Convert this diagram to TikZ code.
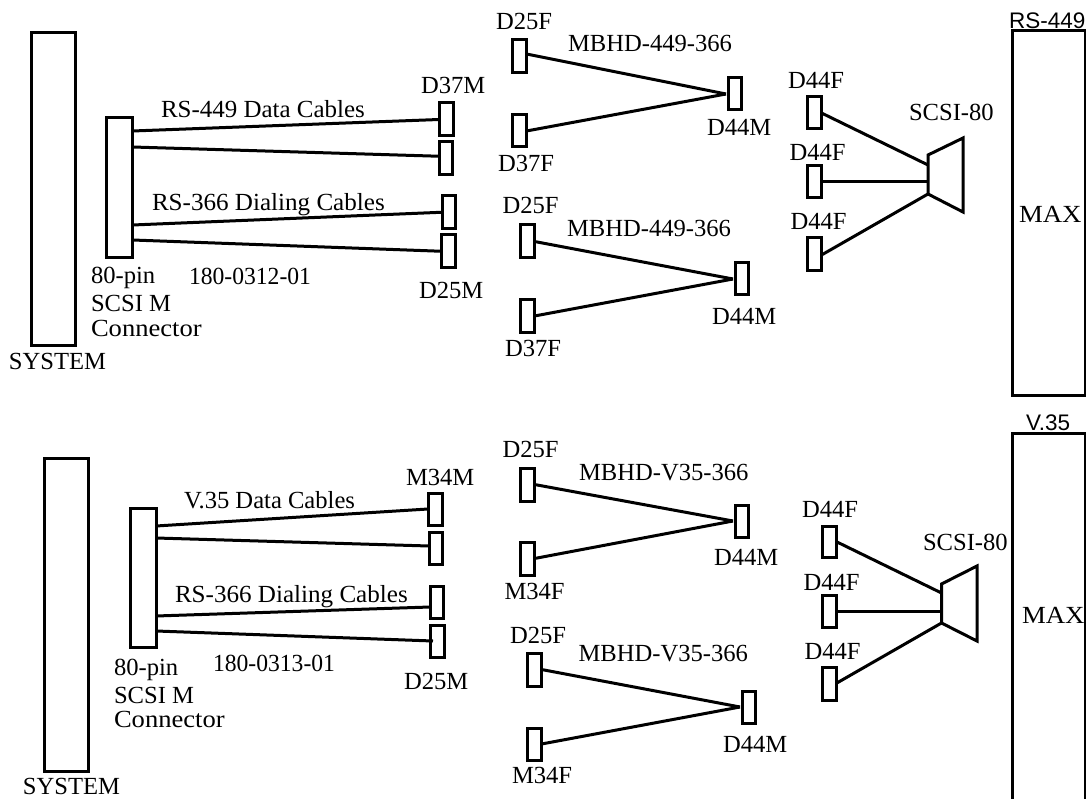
\documentclass[tikz,border=0pt]{standalone}
\usepackage{fontspec}
\setmainfont{Liberation Serif}
\newfontfamily\sansf{Liberation Sans}
\tikzset{
  every picture/.style={x=1pt,y=-1pt},
  conn/.style={draw=black,line width=3pt,inner sep=0pt,outer sep=0pt,fill=none,rectangle},
  cable/.style={draw=black,line width=3pt},
  lbl/.style={anchor=base west,inner sep=0pt,outer sep=0pt,text=black,font=\fontsize{24.6}{28}\selectfont},
  sanslbl/.style={lbl,font=\sansf\fontsize{22.5}{26}\selectfont},
}
\newcommand{\bx}[5]{%
  \pgfmathsetmacro{\bxw}{#4-#2-2}\pgfmathsetmacro{\bxh}{#5-#3-2}%
  \pgfmathsetmacro{\bxcx}{(#2+#4)/2}\pgfmathsetmacro{\bxcy}{(#3+#5)/2}%
  \node[conn,minimum width=\bxw pt,minimum height=\bxh pt] (#1) at (\bxcx,\bxcy) {};}
\newcommand{\lb}[4]{\node[lbl] (#1) at (#2,#3) {#4};}
\begin{document}
\begin{tikzpicture}
\clip (0,0) rectangle (1086,799);
% ---- upper half: boxes
\bx{sysA}{30}{31.5}{76}{346.5}
\bx{scsiA}{105.5}{116.5}{133.5}{258.5}
\bx{a1}{438}{102}{454.5}{137}
\bx{a2}{438}{141}{453.5}{175.5}
\bx{a3}{441}{195}{456.5}{229.5}
\bx{a4}{440}{234}{456.5}{268.5}
\bx{b1}{511.5}{39}{527.5}{74}
\bx{b2}{511.5}{114}{527.5}{148}
\bx{b3}{727}{77}{742.5}{111}
\bx{c1}{519.5}{224}{535.5}{259}
\bx{c2}{519.5}{299}{535.5}{333}
\bx{c3}{734}{262}{749.5}{296}
\bx{d1}{806.5}{96}{822.5}{130}
\bx{d2}{806.5}{165}{822.5}{199}
\bx{d3}{806.5}{237}{822.5}{272}
\bx{maxA}{1011}{29.5}{1086.5}{396.5}
% trapezoid A
\coordinate (tA1) at (928,155);
\coordinate (tA2) at (963,138);
\coordinate (tA3) at (963,212);
\coordinate (tA4) at (928,194);
\coordinate (tAa) at (928,165);
\coordinate (tAb) at (928,182);
\draw[cable,line join=miter] (tA1) -- (tA2) -- (tA3) -- (tA4) -- cycle;
% cables
\draw[cable] ([yshift=56.5pt]scsiA.east) -- (a1.west);
\draw[cable] ([yshift=40.5pt]scsiA.east) -- ([yshift=2pt]a2.west);
\draw[cable] ([yshift=-37.5pt]scsiA.east) -- (a3.west);
\draw[cable] ([yshift=-52.5pt]scsiA.east) -- (a4.west);
\draw[cable] (b1.east) ++(0,-2.5) -- ([xshift=-2pt]b3.west);
\draw[cable] (b2.east) -- ([xshift=-2pt]b3.west);
\draw[cable] (c1.east) -- ([xshift=-2pt]c3.west);
\draw[cable] (c2.east) -- ([xshift=-2pt]c3.west);
\draw[cable] (d1.east) -- (tAa);
\draw[cable] (d2.east) -- (tAb);
\draw[cable] ([yshift=-.5pt]d3.east) -- (tA4);
% labels
\lb{l1}{9}{369}{SYSTEM}
\lb{l2}{91}{284}{80-pin}
\lb{l3}{91}{312}{SCSI M}
\lb{l4}{91}{336}{\scalebox{1.08}[1]{Connector}}
\lb{l5}{189}{285}{\scalebox{.96}[1]{180-0312-01}}
\lb{l6}{161}{117.5}{\scalebox{1.015}[1]{RS-449 Data Cables}}
\lb{l7}{152}{211}{\scalebox{1.02}[1]{RS-366 Dialing Cables}}
\lb{l8}{421}{94}{D37M}
\lb{l9}{419}{299}{D25M}
\lb{l10}{496}{30}{D25F}
\lb{l11}{568}{52}{MBHD-449-366}
\lb{l12}{498}{172}{D37F}
\lb{l13}{707}{136}{D44M}
\lb{l14}{502.5}{214}{D25F}
\lb{l15}{567}{237}{MBHD-449-366}
\lb{l16}{505}{356}{D37F}
\lb{l17}{712}{324}{D44M}
\lb{l18}{788}{89}{D44F}
\lb{l19}{789.5}{161}{D44F}
\lb{l20}{790.5}{230}{D44F}
\lb{l21}{909}{121}{SCSI-80}
\lb{l22}{1019}{223}{\scalebox{1.09}[1]{MAX}}
\node[sanslbl] (l23) at (1009,28.5) {RS-449};
% ---- lower half: boxes
\bx{sysB}{43}{457.5}{89}{772.5}
\bx{scsiB}{129}{507.5}{157}{648.5}
\bx{e1}{427}{492}{443.5}{526}
\bx{e2}{428}{531}{443.5}{565}
\bx{e3}{429}{585}{444.5}{619}
\bx{e4}{429}{624}{445.5}{658}
\bx{f1}{519.5}{467}{535.5}{502}
\bx{f2}{519.5}{541}{535.5}{576}
\bx{f3}{734}{504}{749.5}{538}
\bx{g1}{526.5}{652}{542.5}{687}
\bx{g2}{526.5}{727}{542.5}{761}
\bx{g3}{741}{690}{756.5}{724}
\bx{h1}{821}{525}{837}{558}
\bx{h2}{821}{594}{837}{628}
\bx{h3}{821}{666}{837}{701}
\bx{maxB}{1011}{432.5}{1086.5}{830}
% trapezoid B
\coordinate (tB1) at (941.5,584);
\coordinate (tB2) at (977,566);
\coordinate (tB3) at (977,641);
\coordinate (tB4) at (941.5,623);
\coordinate (tBa) at (941.5,593);
\coordinate (tBb) at (941.5,611);
\draw[cable,line join=miter] (tB1) -- (tB2) -- (tB3) -- (tB4) -- cycle;
% cables
\draw[cable] ([yshift=52pt]scsiB.east) -- (e1.west);
\draw[cable] ([yshift=40pt]scsiB.east) -- ([yshift=2pt]e2.west);
\draw[cable] ([yshift=-38pt]scsiB.east) -- ([yshift=-5pt]e3.west);
\draw[cable] ([yshift=-53pt]scsiB.east) -- ([xshift=3pt]e4.west);
\draw[cable] (f1.east) -- ([xshift=-2pt]f3.west);
\draw[cable] (f2.east) -- ([xshift=-2pt]f3.west);
\draw[cable] (g1.east) -- ([xshift=-2pt]g3.west);
\draw[cable] (g2.east) -- ([xshift=-2pt]g3.west);
\draw[cable] (h1.east) -- (tBa);
\draw[cable] (h2.east) -- (tBb);
\draw[cable] (h3.east) -- (tB4);
% labels
\lb{m1}{23}{794}{SYSTEM}
\lb{m2}{114}{675}{80-pin}
\lb{m3}{114}{703}{SCSI M}
\lb{m4}{114}{727}{\scalebox{1.08}[1]{Connector}}
\lb{m5}{213}{671}{\scalebox{.96}[1]{180-0313-01}}
\lb{m6}{184}{508}{V.35 Data Cables}
\lb{m7}{175}{602}{\scalebox{1.02}[1]{RS-366 Dialing Cables}}
\lb{m8}{406}{485}{M34M}
\lb{m9}{404}{689}{D25M}
\lb{m10}{502.5}{457}{D25F}
\lb{m11}{579}{480}{MBHD-V35-366}
\lb{m12}{504.5}{599}{M34F}
\lb{m13}{714}{565}{D44M}
\lb{m14}{510}{643}{D25F}
\lb{m15}{578.5}{661}{MBHD-V35-366}
\lb{m16}{512}{783}{M34F}
\lb{m17}{723}{752}{D44M}
\lb{m18}{802}{517}{D44F}
\lb{m19}{803.5}{590}{D44F}
\lb{m20}{804.5}{659}{D44F}
\lb{m21}{923}{550}{SCSI-80}
\lb{m22}{1022}{623}{\scalebox{1.09}[1]{MAX}}
\node[sanslbl] (m23) at (1026,430) {V.35};
\end{tikzpicture}
\end{document}
